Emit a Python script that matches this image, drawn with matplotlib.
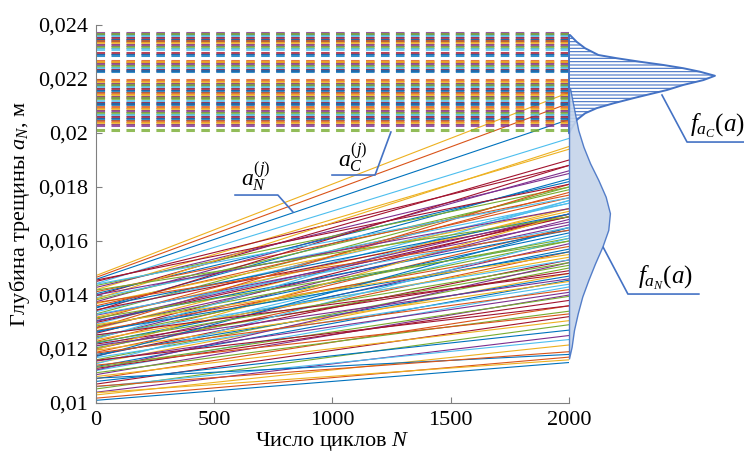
import numpy as np
import matplotlib.pyplot as plt

plt.rcParams['font.family'] = ['Liberation Serif', 'DejaVu Serif']
plt.rcParams['mathtext.fontset'] = 'custom'
plt.rcParams['mathtext.rm'] = 'Liberation Serif'
plt.rcParams['mathtext.it'] = 'Liberation Serif:italic'
plt.rcParams['hatch.linewidth'] = 0.8

# crack depth realisations a_N^(j) at N = 0 and N = 2000
n_cycles = [0, 2000]
a_start = [0.01010, 0.01018, 0.01030, 0.01040, 0.01052, 0.01060, 0.01070, 0.01080, 0.01090, 0.01098,
           0.01105, 0.01112, 0.01120, 0.01128, 0.01135, 0.01140, 0.01148, 0.01155, 0.01160, 0.01168,
           0.01175, 0.01180, 0.01188, 0.01195, 0.01200, 0.01205, 0.01210, 0.01218, 0.01222, 0.01228,
           0.01235, 0.01240, 0.01245, 0.01250, 0.01258, 0.01262, 0.01268, 0.01275, 0.01280, 0.01285,
           0.01292, 0.01298, 0.01305, 0.01310, 0.01318, 0.01325, 0.01330, 0.01338, 0.01345, 0.01352,
           0.01360, 0.01368, 0.01375, 0.01382, 0.01390, 0.01398, 0.01405, 0.01412, 0.01420, 0.01428,
           0.01435, 0.01442, 0.01450, 0.01458, 0.01465, 0.01472,
           0.01122, 0.01132, 0.01145, 0.01158, 0.01172, 0.01185, 0.01198, 0.01212, 0.01225, 0.01238,
           0.01252, 0.01265, 0.01278, 0.01290, 0.01302, 0.01315, 0.01328, 0.01342, 0.01355, 0.01372,
           0.01385, 0.01400, 0.01418, 0.01440, 0.01455, 0.01092, 0.01062, 0.01038]
a_end = [0.01150, 0.01170, 0.01215, 0.01250, 0.01290, 0.01235, 0.01320, 0.01270, 0.01360, 0.01305,
         0.01400, 0.01340, 0.01430, 0.01380, 0.01455, 0.01330, 0.01480, 0.01410, 0.01500, 0.01440,
         0.01530, 0.01470, 0.01560, 0.01450, 0.01590, 0.01510, 0.01620, 0.01490, 0.01570, 0.01650,
         0.01540, 0.01680, 0.01600, 0.01530, 0.01700, 0.01630, 0.01580, 0.01720, 0.01660, 0.01610,
         0.01750, 0.01690, 0.01640, 0.01780, 0.01710, 0.01670, 0.01800, 0.01740, 0.01690, 0.01830,
         0.01760, 0.01720, 0.01860, 0.01790, 0.01740, 0.01900, 0.01820, 0.01770, 0.01940, 0.01850,
         0.01800, 0.01980, 0.01880, 0.02050, 0.02110, 0.02150,
         0.01520, 0.01395, 0.01610, 0.01360, 0.01650, 0.01420, 0.01700, 0.01460, 0.01520, 0.01750,
         0.01480, 0.01560, 0.01810, 0.01550, 0.01700, 0.01600, 0.01650, 0.01880, 0.01700, 0.01640,
         0.01950, 0.01720, 0.01690, 0.01760, 0.01810, 0.01180, 0.01190, 0.01160]

# critical depths a_C^(j)
a_crit = [0.02370, 0.02365, 0.02358, 0.02352, 0.02346, 0.02340, 0.02333, 0.02326, 0.02318, 0.02310,
          0.02295, 0.02288,
          0.02268, 0.02262, 0.02255, 0.02248, 0.02240, 0.02233, 0.02228,
          0.02196, 0.02190, 0.02183, 0.02176, 0.02170, 0.02163, 0.02156, 0.02150, 0.02142, 0.02135,
          0.02128, 0.02120, 0.02113, 0.02106, 0.02098, 0.02090, 0.02083, 0.02075, 0.02068, 0.02060,
          0.02052, 0.02045, 0.02038, 0.02030, 0.02010]

# density f_aC(a): depth and width (in cycle units, drawn from N = 2000)
fC_a = [0.02363, 0.02338, 0.02314, 0.02289, 0.02277, 0.02264, 0.02252, 0.02240, 0.02227, 0.02212,
        0.02196, 0.02178, 0.02159, 0.02141, 0.02129, 0.02110, 0.02092, 0.02073, 0.02048, 0.02017, 0.01999]
fC_w = [4, 32, 68, 124, 202, 300, 399, 483, 554, 617,
        568, 483, 413, 328, 272, 188, 117, 68, 32, 11, 0]

# density f_aN(a)
fN_a = [0.02167, 0.02073, 0.02011, 0.01949, 0.01888, 0.01826, 0.01764, 0.01703, 0.01641, 0.01579,
        0.01517, 0.01456, 0.01394, 0.01332, 0.01270, 0.01208, 0.01165]
fN_w = [4, 25, 39, 61, 89, 124, 155, 173, 166, 141,
        110, 82, 56, 37, 21, 11, 0]

x_ticks = [0, 500, 1000, 1500, 2000]
y_ticks = [0.010, 0.012, 0.014, 0.016, 0.018, 0.020, 0.022, 0.024]
y_labels = ['0,01', '0,012', '0,014', '0,016', '0,018', '0,02', '0,022', '0,024']

colors = ['#0072BD', '#D95319', '#EDB120', '#7E2F8E', '#77AC30', '#4DBEEE', '#A2142F']
blue = '#4472C4'

fig = plt.figure(figsize=(7.44, 4.54), dpi=100)
ax = fig.add_axes([0.129, 0.1123, 0.6358, 0.8326])

for i in range(len(a_start)):
    ax.plot(n_cycles, [a_start[i], a_end[i]], color=colors[i % 7], lw=0.8)

for i, c in enumerate(a_crit):
    ax.plot([0, 2000], [c, c], color=colors[(i + 3) % 7], lw=2.2, alpha=0.8,
            dashes=(2.8, 2.1))

# distributions on the right
ax.fill_betweenx(fC_a, 2000, [2000 + w for w in fC_w], facecolor='none', edgecolor=blue,
                 hatch='-----', lw=1.4, clip_on=False, zorder=4)
ax.fill_betweenx(fN_a, 2000, [2000 + w for w in fN_w], facecolor='#C5D4EA', edgecolor=blue,
                 lw=1.0, alpha=0.9, clip_on=False, zorder=5)

# leaders and labels
ax.plot([588, 769, 833], [0.017703, 0.017703, 0.017073], color=blue, lw=1.2, clip_on=False)
ax.text(676, 0.01837, '$a_N^{(j)}$', fontsize=17, ha='center', va='center')
ax.plot([998, 1180, 1247], [0.018444, 0.018444, 0.020037], color=blue, lw=1.2, clip_on=False)
ax.text(1087, 0.019074, '$a_C^{(j)}$', fontsize=17, ha='center', va='center')
ax.plot([2393, 2499, 2740], [0.021407, 0.019666, 0.019666], color=blue, lw=1.2, clip_on=False)
ax.text(2626, 0.02026, '$f_{a_C}(a)$', fontsize=18, ha='center', va='center')
ax.plot([2144, 2249, 2549], [0.015777, 0.014036, 0.014036], color=blue, lw=1.2, clip_on=False)
ax.text(2406, 0.014629, '$f_{a_N}(a)$', fontsize=18, ha='center', va='center')

ax.set_xlim(0, 2000)
ax.set_ylim(0.010, 0.024)
ax.set_xticks(x_ticks)
ax.set_yticks(y_ticks)
ax.set_yticklabels(y_labels)
for s in ['top', 'right']:
    ax.spines[s].set_visible(False)
for s in ['left', 'bottom']:
    ax.spines[s].set_color('#808080')
ax.tick_params(direction='in', length=4, color='#808080', labelsize=16, pad=6)
for lbl in ax.get_xticklabels() + ax.get_yticklabels():
    lbl.set_fontfamily('Liberation Serif')
ax.set_xlabel('Число циклов $N$', fontsize=16, labelpad=0)
ax.set_ylabel('Глубина трещины $a_N$, м', fontsize=16, labelpad=4)

fig.savefig('out.png', dpi=100)
